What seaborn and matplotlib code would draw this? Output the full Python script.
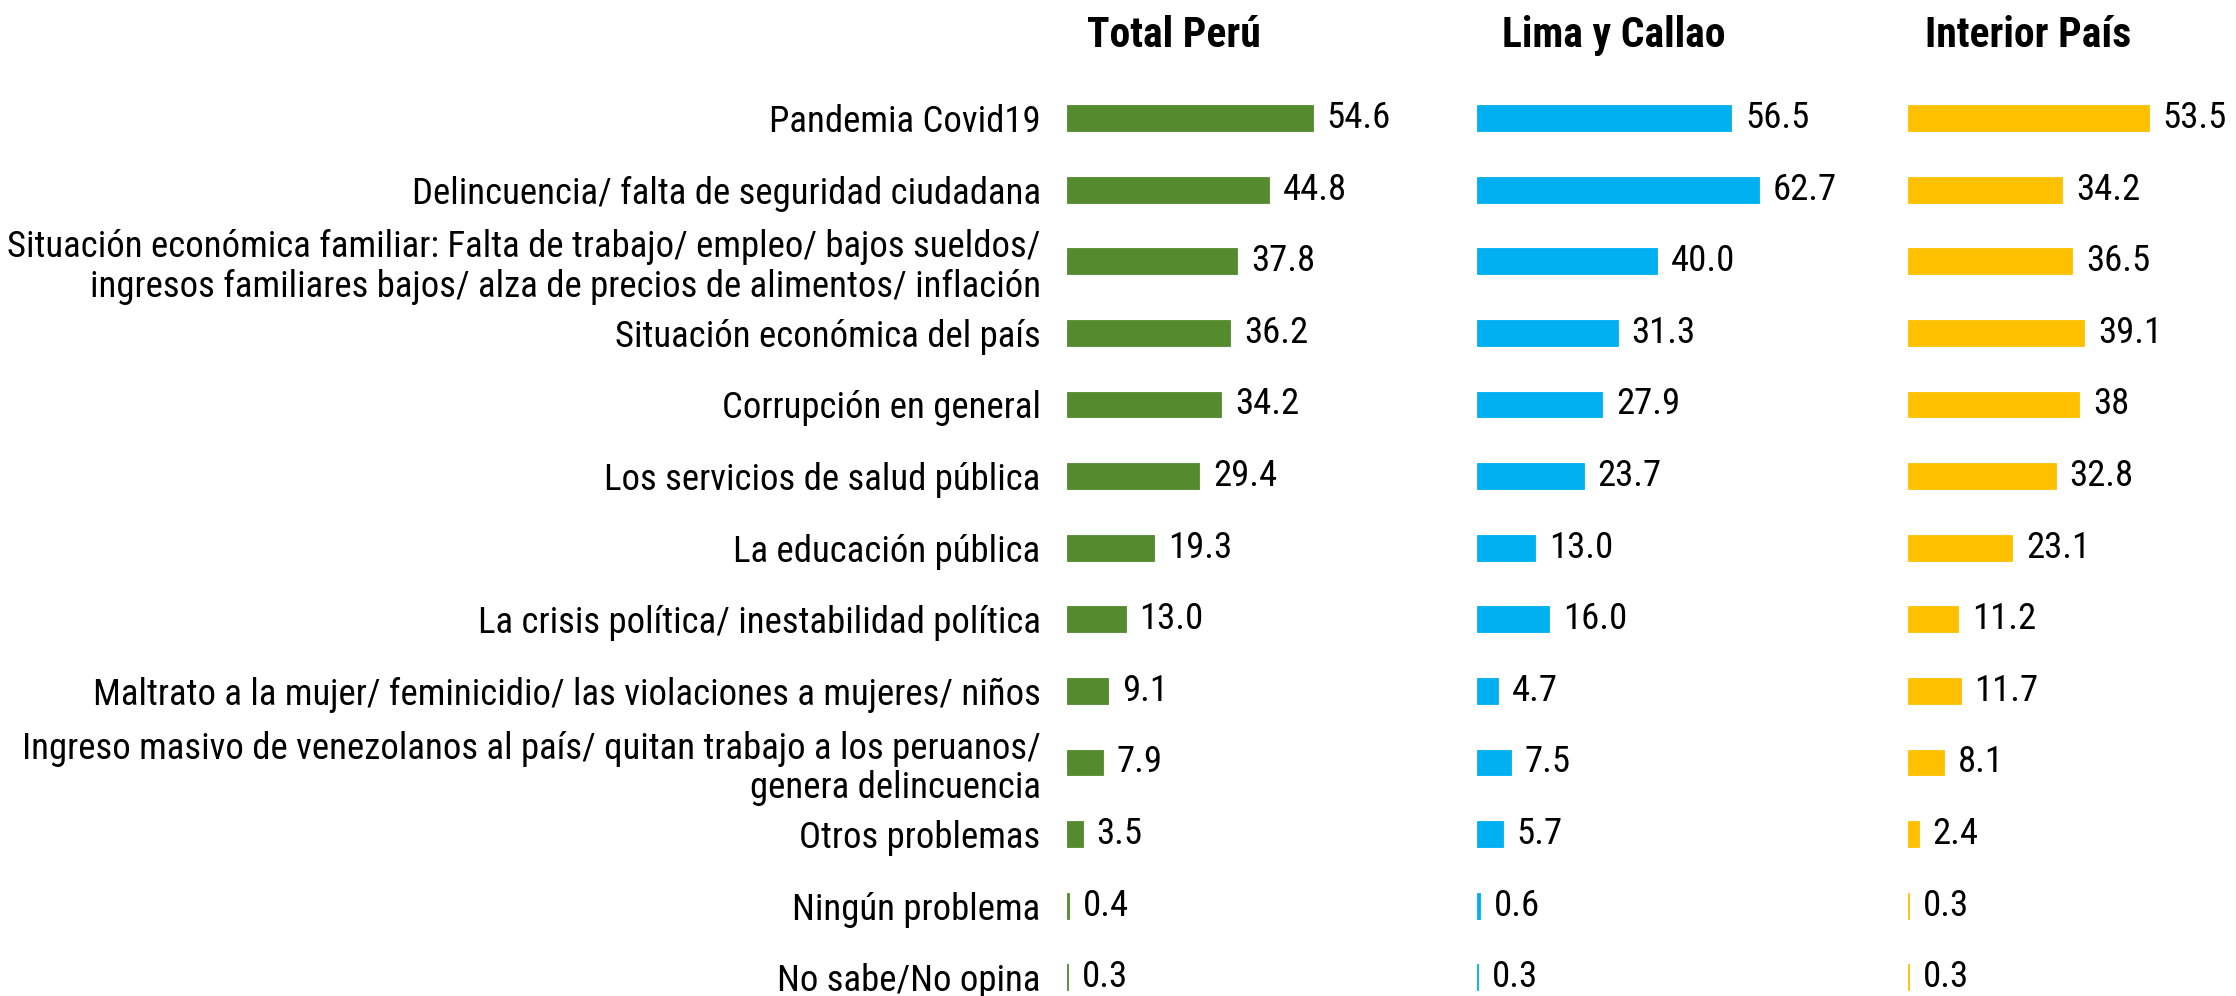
import matplotlib
matplotlib.use("Agg")
import matplotlib.pyplot as plt
import seaborn as sns

sns.set_style("white")
plt.rcParams['font.family'] = ['Roboto Condensed', 'DejaVu Sans']
plt.rcParams['text.color'] = 'black'
plt.rcParams['ytick.color'] = 'black'

categories = [
    "Pandemia Covid19",
    "Delincuencia/ falta de seguridad ciudadana",
    "Situación económica familiar: Falta de trabajo/ empleo/ bajos sueldos/\ningresos familiares bajos/ alza de precios de alimentos/ inflación",
    "Situación económica del país",
    "Corrupción en general",
    "Los servicios de salud pública",
    "La educación pública",
    "La crisis política/ inestabilidad política",
    "Maltrato a la mujer/ feminicidio/ las violaciones a mujeres/ niños",
    "Ingreso masivo de venezolanos al país/ quitan trabajo a los peruanos/\ngenera delincuencia",
    "Otros problemas",
    "Ningún problema",
    "No sabe/No opina",
]
total_peru = [54.6, 44.8, 37.8, 36.2, 34.2, 29.4, 19.3, 13.0, 9.1, 7.9, 3.5, 0.4, 0.3]
lima_callao = [56.5, 62.7, 40.0, 31.3, 27.9, 23.7, 13.0, 16.0, 4.7, 7.5, 5.7, 0.6, 0.3]
interior_pais = [53.5, 34.2, 36.5, 39.1, 38, 32.8, 23.1, 11.2, 11.7, 8.1, 2.4, 0.3, 0.3]
interior_labels = ["53.5", "34.2", "36.5", "39.1", "38", "32.8", "23.1", "11.2", "11.7", "8.1", "2.4", "0.3", "0.3"]

titles = ["Total Perú", "Lima y Callao", "Interior País"]
colors = ["#558B2F", "#00B0F0", "#FFC000"]

fig = plt.figure(figsize=(22.36, 9.96), dpi=100)
lefts = [0.4772, 0.6605, 0.8533]
title_x = [0.525, 0.7218, 0.907]
series = [total_peru, lima_callao, interior_pais]
labels = [[f"{v:.1f}" for v in total_peru], [f"{v:.1f}" for v in lima_callao], interior_labels]

for k in range(3):
    ax = fig.add_axes([lefts[k], 0.0, 0.1409, 1.0])
    sns.barplot(x=series[k], y=categories, color=colors[k], width=0.36,
                saturation=1, edgecolor=colors[k], linewidth=0.6, ax=ax)
    txts = ax.bar_label(ax.containers[0], labels=labels[k], padding=10, fontsize=26.5)
    for t in txts:
        t.set_y(t.get_position()[1])
        t.set_va('center')
        t.set_position((t.get_position()[0], t.get_position()[1] + 0.04))
    ax.set_xlim(0, 70)
    ax.set_ylim(12.26, -1.648)
    ax.set_xticks([])
    ax.set_xlabel("")
    ax.set_ylabel("")
    for s in ax.spines.values():
        s.set_visible(False)
    if k == 0:
        ax.tick_params(axis='y', length=0, pad=19, labelsize=26.5)
        for t in ax.get_yticklabels():
            t.set_linespacing(1.12)
    else:
        ax.set_yticks([])
    fig.text(title_x[k], 0.964, titles[k], ha='center', va='center',
             fontsize=30, fontweight='bold')

fig.savefig("out.png", dpi=100)
